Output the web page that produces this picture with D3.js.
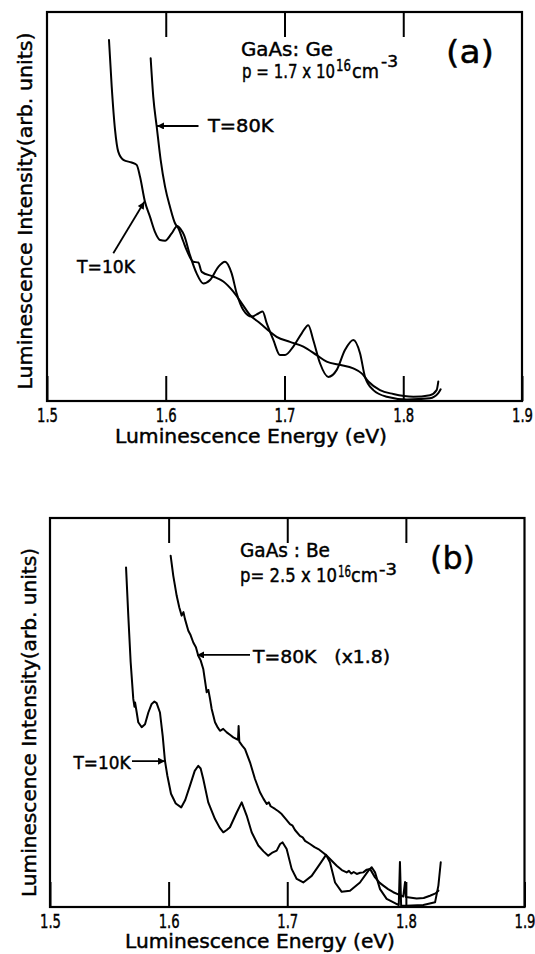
<!DOCTYPE html>
<html>
<head>
<meta charset="utf-8">
<script src="https://cdn.jsdelivr.net/npm/d3@7"></script>
<style>
  html, body { margin: 0; padding: 0; background: #fff; }
  svg { display: block; }
</style>
</head>
<body>
<script>
// ---------------- data ----------------
// Photon energy axis (eV)
const energyDomain = [1.5, 1.9];
const energyTicks = [1.5, 1.6, 1.7, 1.8, 1.9];
const tickLabels = ["1.5", "1.6", "1.7", "1.8", "1.9"];
const innerTicks = [1.6, 1.7, 1.8];
// Intensity in arbitrary units
const intensityDomain = [0, 100];

// (a) GaAs:Ge — [energy eV, intensity a.u.]
const ge10K = [
  [1.5522, 92.8], [1.5545, 80.8], [1.5573, 69.7], [1.5600, 64.1], [1.5643, 62.0],
  [1.5713, 61.3], [1.5755, 60.7], [1.5783, 57.7], [1.5825, 51.2], [1.5867, 47.4],
  [1.5909, 43.5], [1.5952, 41.4], [1.5994, 41.2], [1.6050, 43.1], [1.6097, 45.0],
  [1.6125, 44.2], [1.6155, 42.6], [1.6204, 37.5], [1.6260, 32.8], [1.6316, 30.2],
  [1.6373, 31.1], [1.6443, 34.5], [1.6499, 35.8], [1.6555, 32.8], [1.6597, 27.7],
  [1.6653, 23.4], [1.6724, 21.7], [1.6780, 22.5], [1.6816, 23.0], [1.6850, 20.0],
  [1.6906, 15.7], [1.6962, 11.8], [1.7004, 11.8], [1.7074, 14.0], [1.7145, 17.4],
  [1.7200, 19.5], [1.7242, 15.7], [1.7299, 9.7], [1.7369, 6.2], [1.7440, 8.0],
  [1.7509, 13.1], [1.7579, 15.7], [1.7636, 12.3], [1.7678, 6.2], [1.7748, 2.8],
  [1.7861, 1.1], [1.8030, 0.4], [1.8225, 0.7], [1.8295, 2.0], [1.8315, 3.0]
];
const ge80K = [
  [1.5873, 88.1], [1.5895, 78.2], [1.5924, 70.5], [1.5957, 62.0], [1.5994, 55.1],
  [1.6036, 49.9], [1.6078, 45.7], [1.6106, 44.4], [1.6148, 41.0], [1.6176, 38.8],
  [1.6232, 35.8], [1.6274, 35.6], [1.6303, 33.2], [1.6400, 32.0], [1.6485, 30.7],
  [1.6569, 28.1], [1.6640, 25.1], [1.6709, 22.1], [1.6794, 20.0], [1.6878, 17.8],
  [1.6934, 16.5], [1.7046, 15.2], [1.7159, 14.0], [1.7271, 11.8], [1.7355, 10.1],
  [1.7467, 9.3], [1.7579, 8.4], [1.7650, 7.1], [1.7706, 5.0], [1.7804, 2.8],
  [1.7916, 1.8], [1.8085, 1.1], [1.8225, 1.5], [1.8281, 2.8], [1.8295, 5.0]
];

// (b) GaAs:Be — [energy eV, intensity a.u.]
const be10K = [
  [1.5641, 87.3], [1.5660, 74.9], [1.5680, 62.9], [1.5702, 53.5], [1.5712, 51.5],
  [1.5717, 52.6], [1.5731, 50.0], [1.5744, 47.5], [1.5773, 46.2], [1.5801, 47.0],
  [1.5829, 50.0], [1.5857, 52.2], [1.5880, 52.8], [1.5899, 52.4], [1.5927, 50.0],
  [1.5950, 44.0], [1.5969, 37.6], [1.5989, 33.8], [1.6020, 29.1], [1.6060, 26.6],
  [1.6106, 25.6], [1.6140, 27.5], [1.6180, 31.2], [1.6220, 35.0], [1.6250, 36.3],
  [1.6270, 35.6], [1.6292, 32.9], [1.6334, 26.9], [1.6391, 22.6], [1.6430, 20.4],
  [1.6461, 19.2], [1.6490, 19.8], [1.6517, 20.5], [1.6574, 24.3], [1.6616, 26.9],
  [1.6658, 23.5], [1.6700, 19.2], [1.6756, 15.8], [1.6800, 14.3], [1.6840, 13.2],
  [1.6870, 13.9], [1.6911, 14.5], [1.6940, 16.2], [1.6961, 16.6], [1.6995, 14.9],
  [1.7037, 9.8], [1.7080, 7.2], [1.7135, 6.3], [1.7206, 8.0], [1.7276, 11.1],
  [1.7327, 13.4], [1.7360, 11.5], [1.7403, 6.3], [1.7459, 3.9], [1.7529, 4.2],
  [1.7613, 6.3], [1.7683, 9.3], [1.7712, 10.2], [1.7740, 8.9], [1.7782, 4.6],
  [1.7838, 2.1], [1.7908, 1.0], [1.7940, 0.5], [1.7950, 11.6], [1.7960, 0.3],
  [1.8000, 0.3], [1.8147, 0.5], [1.8246, 1.2], [1.8274, 5.5], [1.8294, 11.5]
];
const be80K = [
  [1.6017, 90.3], [1.6039, 85.2], [1.6068, 80.0], [1.6090, 77.0], [1.6110, 74.9],
  [1.6125, 75.8], [1.6138, 74.0], [1.6166, 71.0], [1.6185, 69.9], [1.6208, 68.0],
  [1.6230, 66.8], [1.6250, 64.6], [1.6270, 63.4], [1.6292, 61.2], [1.6305, 58.5],
  [1.6321, 55.2], [1.6335, 55.8], [1.6349, 53.5], [1.6363, 50.9], [1.6391, 47.5],
  [1.6415, 46.1], [1.6433, 45.3], [1.6460, 45.8], [1.6490, 44.9], [1.6520, 44.2],
  [1.6545, 43.6], [1.6585, 43.0], [1.6590, 46.5], [1.6596, 42.5], [1.6620, 41.5],
  [1.6644, 40.6], [1.6686, 37.2], [1.6728, 32.9], [1.6770, 29.5], [1.6800, 27.8],
  [1.6827, 26.5], [1.6845, 26.9], [1.6860, 25.9], [1.6897, 25.2], [1.6925, 24.6],
  [1.6953, 23.9], [1.6990, 22.5], [1.7023, 21.3], [1.7045, 20.9], [1.7065, 19.8],
  [1.7107, 18.3], [1.7130, 17.9], [1.7150, 17.0], [1.7192, 16.2], [1.7230, 15.4],
  [1.7262, 14.9], [1.7300, 14.0], [1.7333, 13.2], [1.7375, 11.9], [1.7417, 10.6],
  [1.7460, 9.5], [1.7501, 8.9], [1.7520, 9.3], [1.7540, 8.6], [1.7560, 9.0],
  [1.7586, 8.5], [1.7615, 8.8], [1.7641, 8.9], [1.7670, 9.6], [1.7698, 9.8],
  [1.7740, 7.6], [1.7780, 6.2], [1.7810, 5.5], [1.7850, 4.6], [1.7894, 3.8],
  [1.7940, 3.2], [1.7978, 2.7], [1.7993, 6.4], [1.8000, 2.6], [1.8091, 2.2],
  [1.8150, 2.3], [1.8203, 2.9], [1.8250, 3.5], [1.8274, 4.2]
];

// Temperature labels and the point on each curve that their arrow points to
const geLabels = [
  { text: "T=80K", target: [1.5926, 70.7] },
  { text: "T=10K", target: [1.5820, 51.2] }
];
const beLabels = [
  { text: "T=80K\u00a0\u00a0\u00a0(x1.8)", target: [1.6239, 64.8] },
  { text: "T=10K", target: [1.5970, 37.5] }
];

const xTitle = "Luminescence Energy (eV)";
const yTitle = "Luminescence Intensity(arb. units)";

// ---------------- drawing ----------------
const W = 535, H = 954;
const FONT = "'DejaVu Sans', sans-serif";

const svg = d3.select("body").append("svg")
  .attr("width", W).attr("height", H)
  .attr("viewBox", `0 0 ${W} ${H}`);

svg.append("rect").attr("width", W).attr("height", H).attr("fill", "#fff");

svg.append("defs").append("marker")
  .attr("id", "head")
  .attr("viewBox", "0 0 10 10")
  .attr("refX", 10).attr("refY", 5)
  .attr("markerUnits", "userSpaceOnUse")
  .attr("markerWidth", 10).attr("markerHeight", 7)
  .attr("orient", "auto")
  .append("path").attr("d", "M0,0 L10,5 L0,10 Z").attr("fill", "#000");

// lettering: a slightly heavy, evenly stroked sans
function label(g, str, x, y, size, len, opts = {}) {
  const t = g.append("text")
    .attr("x", x).attr("y", y)
    .attr("font-family", FONT)
    .attr("font-size", size)
    .attr("fill", "#000")
    .attr("stroke", "#000")
    .attr("stroke-width", 0.45)
    .attr("text-anchor", opts.anchor || "start")
    .text(str);
  if (len) t.attr("textLength", len).attr("lengthAdjust", "spacingAndGlyphs");
  if (opts.transform) t.attr("transform", opts.transform);
  return t;
}

function drawPanel(p) {
  const x = d3.scaleLinear().domain(energyDomain).range([p.left, p.right]);
  const y = d3.scaleLinear().domain(intensityDomain).range([p.bottom, p.top]);
  const g = svg.append("g");

  // spectra
  const line = d3.line().x(d => x(d[0])).y(d => y(d[1])).curve(p.curve);
  p.series.forEach(s => {
    g.append("path").datum(s)
      .attr("d", line)
      .attr("fill", "none")
      .attr("stroke", "#000")
      .attr("stroke-width", 2)
      .attr("stroke-linejoin", "round")
      .attr("stroke-linecap", "round");
  });

  // bottom axis: inward ticks + labels
  const bottom = g.append("g")
    .attr("transform", `translate(0,${p.bottom})`)
    .call(d3.axisBottom(x).tickValues(energyTicks)
      .tickFormat((d, i) => tickLabels[i])
      .tickSize(-25).tickPadding(7.5));
  bottom.select(".domain").remove();
  bottom.selectAll(".tick line").attr("stroke", "#000").attr("stroke-width", 2);
  bottom.selectAll(".tick text")
    .attr("font-family", FONT).attr("font-size", 19).attr("fill", "#000")
    .attr("stroke", "#000").attr("stroke-width", 0.45)
    .attr("textLength", 21).attr("lengthAdjust", "spacingAndGlyphs");

  // top axis: inward ticks only
  const top = g.append("g")
    .attr("transform", `translate(0,${p.top})`)
    .call(d3.axisTop(x).tickValues(innerTicks).tickFormat("").tickSize(-25));
  top.select(".domain").remove();
  top.selectAll(".tick line").attr("stroke", "#000").attr("stroke-width", 2);

  // frame
  g.append("rect")
    .attr("x", p.left).attr("y", p.top)
    .attr("width", p.right - p.left).attr("height", p.bottom - p.top)
    .attr("fill", "none").attr("stroke", "#000").attr("stroke-width", 2.2);

  // axis titles
  label(g, xTitle, p.xTitle[0], p.xTitle[1], 19, p.xTitle[2], { anchor: "middle" });
  label(g, yTitle, 0, 0, 20, p.yTitle[2],
    { anchor: "middle", transform: `translate(${p.yTitle[0]},${p.yTitle[1]}) rotate(-90)` });

  // sample description
  p.texts.forEach(t => label(g, t[0], t[1], t[2], t[3], t[4]));

  // temperature labels with arrows
  p.labels.forEach((l, i) => {
    const a = p.arrows[i];
    const tx = x(l.target[0]), ty = y(l.target[1]);
    const sy = a.horizontal ? ty : a.from[1];
    g.append("line")
      .attr("x1", a.from[0]).attr("y1", sy)
      .attr("x2", tx).attr("y2", ty)
      .attr("stroke", "#000").attr("stroke-width", 1.8)
      .attr("marker-end", "url(#head)");
    label(g, l.text, a.text[0], a.text[1], a.text[2], a.text[3]);
  });
}

drawPanel({
  left: 47, right: 522, top: 12, bottom: 401,
  curve: d3.curveMonotoneX,
  series: [ge10K, ge80K],
  xTitle: [251, 443, 272],
  yTitle: [32, 211, 357],
  texts: [
    ["GaAs: Ge", 241, 56, 20, 92],
    ["p = 1.7 x 10", 242, 78, 20, 93],
    ["16", 336, 71, 16, 15],
    ["cm", 352, 78, 20, 27],
    ["-3", 381, 67, 16, 17],
    ["(a)", 446, 63, 32, 48]
  ],
  labels: geLabels,
  arrows: [
    { from: [198.5, 0], horizontal: true, text: [208, 132, 17, 65.5] },
    { from: [113.3, 253.3], horizontal: false, text: [77, 273, 17, 58] }
  ]
});

drawPanel({
  left: 50, right: 524.5, top: 518, bottom: 907,
  curve: d3.curveLinear,
  series: [be10K, be80K],
  xTitle: [260, 948, 270],
  yTitle: [36, 722.5, 349],
  texts: [
    ["GaAs : Be", 240, 557, 20, 90],
    ["p= 2.5 x 10", 240, 582, 20, 97],
    ["16", 338, 576.5, 16, 13],
    ["cm", 351, 582, 20, 27],
    ["-3", 379, 575, 16, 18],
    ["(b)", 430, 569, 32, 45]
  ],
  labels: beLabels,
  arrows: [
    { from: [250, 0], horizontal: true, text: [253, 662.7, 18, 137] },
    { from: [132, 0], horizontal: true, text: [73.5, 768.5, 18, 57] }
  ]
});
</script>
</body>
</html>
